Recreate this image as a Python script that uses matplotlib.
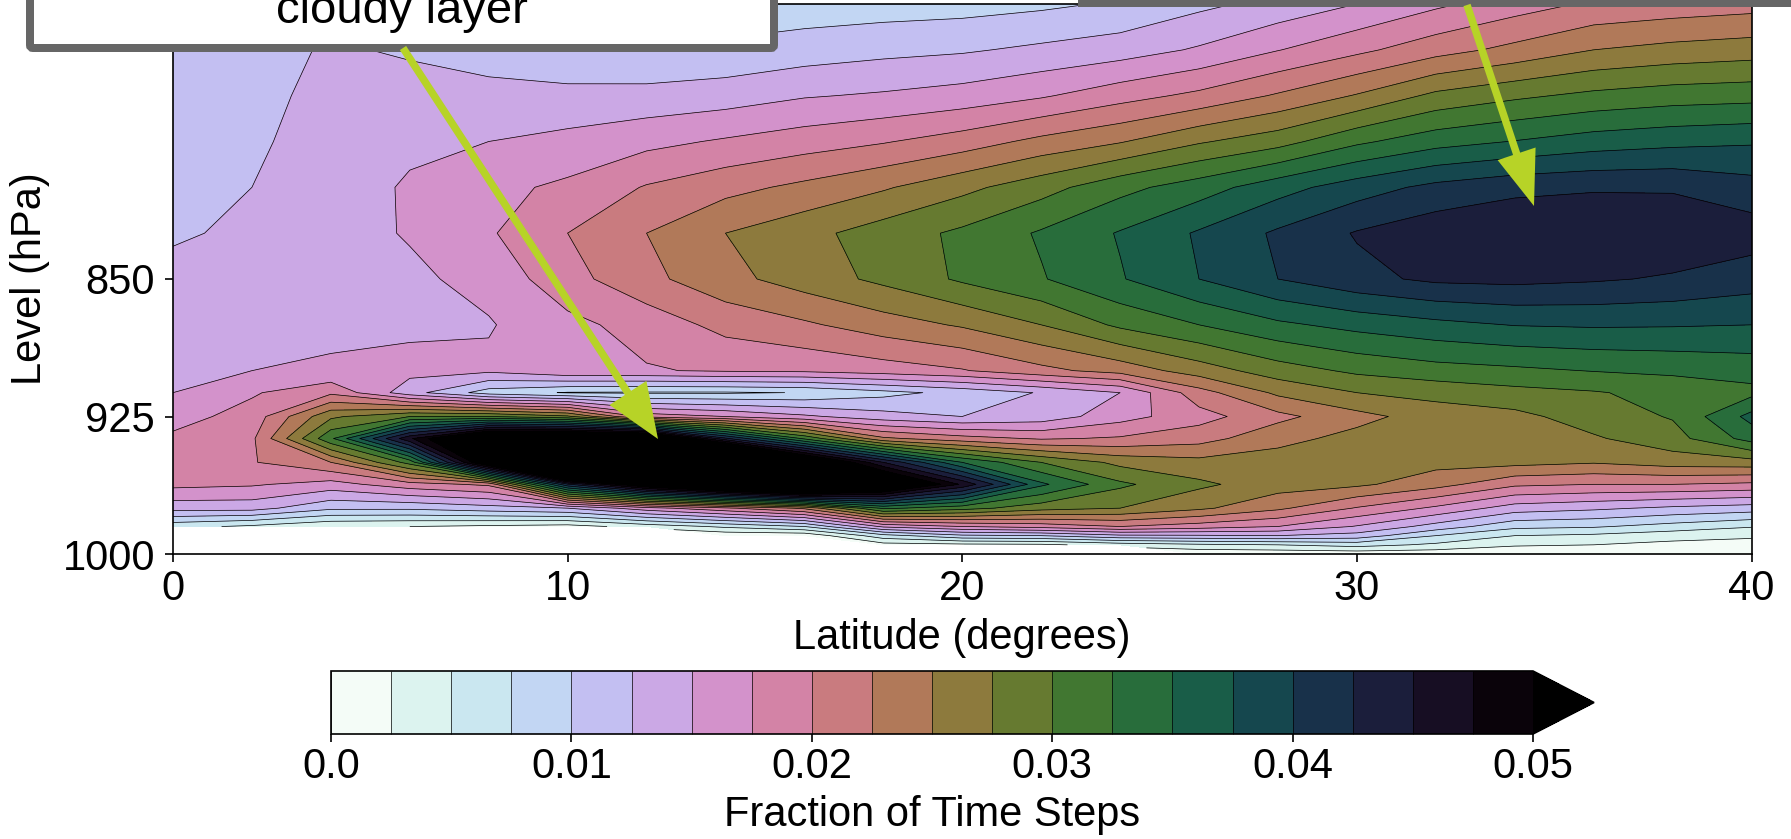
import numpy as np
import matplotlib
matplotlib.use("Agg")
import matplotlib.pyplot as plt
from matplotlib.patches import FancyArrow, FancyBboxPatch, Rectangle
from matplotlib.transforms import Affine2D

plt.rcParams['font.family'] = ['Liberation Sans', 'DejaVu Sans']

W, H = 1791, 839
N = float('nan')
latitudes = list(range(0, 41, 2))
levels_hpa = [1000, 995, 990, 985, 975, 962, 950, 937, 925, 912, 900, 875, 850, 825, 800, 775, 750, 725, 700]

r1000 = [N, N, N, N, N, N, N, N, N, N, N, N, N, .0005, .0006, .0008, .0008, .0006, .0005, .0005, .0005]
r995 = [N, N, N, N, N, N, N, N, N, .0015, .0018, .002, .0035, .0045, .005, .006, .0045, .0028, .0025, .0018, .0018]
r990 = [N, N, N, N, N, N, N, .0006, .0006, .0065, .0095, .01, .012, .0122, .0125, .0115, .0075, .005, .0045, .0035, .0028]
r985 = [.0058, .0045, .0028, .0025, .002, .0015, .0035, .0055, .0075, .0155, .0175, .0185, .02, .0188, .0175, .0148, .0115, .0082, .0078, .0065, .0052]
r975 = [.0135, .0135, .0105, .0105, .0115, .0125, .0165, .0195, .023, .033, .031, .0285, .0275, .0255, .023, .0198, .017, .0138, .013, .012, .0113]
r962 = [.0182, .0178, .0165, .019, .0205, .042, .054, .062, .068, .058, .047, .0355, .0305, .028, .0262, .0255, .0235, .0205, .02, .02, .0195]
r950 = [.019, .0198, .0225, .031, .055, .09, .09, .08, .058, .045, .035, .03, .0268, .0258, .0262, .0258, .0258, .0258, .0252, .0262, .0265]
r937 = [.018, .0195, .032, .047, .06, .06, .06, .043, .032, .023, .021, .0197, .0203, .0215, .0242, .0258, .0265, .027, .0272, .029, .0335]
r925 = [.0165, .0185, .027, .03, .03, .028, .019, .0175, .0155, .0135, .0125, .0135, .0165, .019, .0218, .0242, .0262, .0268, .0287, .0302, .0358]
r912 = [.015, .0172, .0195, .0135, .0088, .0073, .0072, .0072, .0076, .0092, .0108, .0127, .015, .0215, .0255, .0275, .0283, .0292, .0298, .0308, .0318]
r900 = [.0143, .015, .0153, .0158, .0155, .0172, .0173, .0178, .018, .0188, .0198, .0218, .0235, .0262, .0288, .0305, .0315, .032, .0326, .033, .0335]
r875 = [.0137, .0142, .0145, .0145, .0148, .0168, .0185, .0208, .0221, .0238, .0253, .0275, .0305, .0325, .0345, .0358, .0368, .0376, .0378, .0377, .0375]
r850 = [.013, .0137, .0142, .0145, .0158, .0191, .0218, .0242, .0262, .0281, .0304, .0323, .0348, .0375, .04, .0418, .043, .0432, .0428, .0422, .0412]
r825 = [.0123, .0128, .014, .0152, .0172, .02, .0225, .025, .0267, .0287, .0305, .0328, .0352, .0378, .0404, .0427, .0441, .0448, .0449, .0445, .0437]
r800 = [.0118, .0125, .0137, .0153, .0168, .018, .0202, .0217, .0231, .0247, .0268, .029, .0317, .0338, .0365, .0388, .0407, .0418, .0422, .0422, .041]
r775 = [.0113, .0122, .0133, .0145, .015, .0157, .0168, .0178, .0188, .0198, .0212, .0232, .0248, .0272, .029, .032, .034, .0351, .0362, .0368, .0372]
r750 = [.011, .012, .013, .0135, .0132, .0132, .0133, .0138, .0148, .0153, .016, .0172, .019, .0206, .0228, .0252, .0281, .0295, .0306, .0313, .0316]
r725 = [.0108, .0115, .0128, .0122, .0115, .0105, .0102, .0105, .0112, .0118, .0122, .013, .0138, .0153, .0174, .0194, .0215, .0232, .025, .0258, .0263]
r700 = [.0105, .011, .0127, .0105, .0095, .009, .0085, .0085, .0086, .0088, .009, .0095, .0103, .0119, .0133, .015, .017, .0188, .0204, .021, .0215]

fraction = np.ma.masked_invalid(np.array([r1000, r995, r990, r985, r975, r962, r950, r937, r925, r912, r900, r875,
                                          r850, r825, r800, r775, r750, r725, r700]))
contour_levels = np.arange(0, 0.05 + 1e-9, 0.0025)
x_ticks = [0, 10, 20, 30, 40]
y_ticks = [850, 925, 1000]
cb_ticks = [0.0, 0.01, 0.02, 0.03, 0.04, 0.05]
cb_labels = ['0.0', '0.01', '0.02', '0.03', '0.04', '0.05']

FS = 30


def rect(l, t, r, b):
    return [l / W, 1 - b / H, (r - l) / W, (b - t) / H]


fig = plt.figure(figsize=(W / 100, H / 100), dpi=100)
ax = fig.add_axes(rect(173, 4, 1751.5, 554))
cf = ax.contourf(latitudes, levels_hpa, fraction, levels=contour_levels, cmap='cubehelix_r', extend='max')
cs = ax.contour(latitudes, levels_hpa, fraction, levels=contour_levels, colors='black', linewidths=0.5)
ax.set_xlim(0, 40)
ax.set_ylim(1000, 700)
ax.set_xticks(x_ticks)
ax.set_yticks(y_ticks)
ax.tick_params(labelsize=FS, width=1.2, length=6)
ax.tick_params(axis='x', pad=5)
ax.tick_params(axis='y', pad=7)
for s in ax.spines.values():
    s.set_linewidth(1.2)

cax = fig.add_axes(rect(331, 671, 1594, 734))
cb = fig.colorbar(cf, cax=cax, orientation='horizontal', extend='max', extendfrac=61 / 1202, ticks=cb_ticks)
cb.set_ticklabels(cb_labels)
cb.add_lines(cs)
cax.tick_params(labelsize=FS, width=1.2, length=6, pad=3)
cb.outline.set_linewidth(1.2)

px = Affine2D().scale(1 / W, -1 / H).translate(0, 1) + fig.transFigure
fig.text(30 / W, 1 - 279 / H, 'Level (hPa)', rotation=90, ha='center', va='center', fontsize=FS)
fig.text(962 / W, 1 - 638 / H, 'Latitude (degrees)', ha='center', va='center', fontsize=FS)
fig.text(932 / W, 1 - 815 / H, 'Fraction of Time Steps', ha='center', va='center', fontsize=FS)

grey = '#666666'
lime = '#b7d327'
fig.add_artist(FancyBboxPatch((30, -60), 744, 108, boxstyle='round,pad=0,rounding_size=3', transform=px,
                              fc='white', ec=grey, lw=5.76, zorder=5))
fig.add_artist(Rectangle((1078, -60), 800, 67, transform=px, fc=grey, ec='none', zorder=5))
t = fig.text(402 / W, 1 - 23 / H, 'cloudy layer', ha='center', va='baseline', fontsize=34, zorder=7)
fig.add_artist(FancyArrow(403, 48, 658 - 403, 439 - 48, width=7.5, head_width=44, head_length=55,
                          length_includes_head=True, transform=px, fc=lime, ec='none', zorder=6))
fig.add_artist(FancyArrow(1467, 5, 1534 - 1467, 206 - 5, width=7.5, head_width=40, head_length=55,
                          length_includes_head=True, transform=px, fc=lime, ec='none', zorder=6))
fig.savefig('out.png', dpi=100)
